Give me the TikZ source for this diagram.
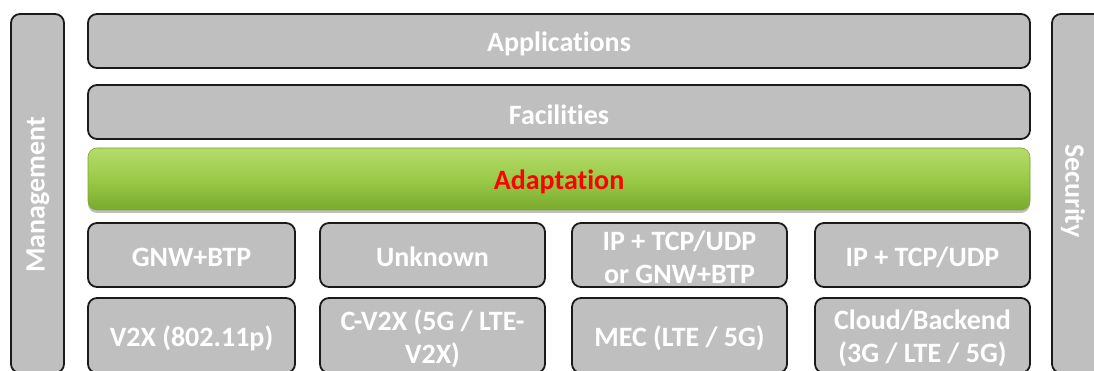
\documentclass[tikz,border=0pt]{standalone}
\usepackage{fontspec}
\setmainfont{Carlito}[Ligatures=CommonOff]
\usetikzlibrary{shadows}

\definecolor{boxgray}{HTML}{BFBFBF}
\definecolor{boxline}{HTML}{1A1A1A}
\definecolor{greentop}{HTML}{B4DC6C}
\definecolor{greenmid}{HTML}{9ACA48}
\definecolor{greenbot}{HTML}{7AAA2C}
\definecolor{greenline}{HTML}{7FA23A}

\begin{document}
\begin{tikzpicture}[x=1pt,y=-1pt,
  labelfont/.style={font=\bfseries\fontsize{28}{33}\selectfont},
  layer/.style={draw=boxline, line width=1.8pt, rounded corners=9pt,
    fill=boxgray, inner sep=0pt},
  txt/.style={text=white, labelfont, align=center, inner sep=0pt},
  sidebox/.style={layer, minimum width=53pt, minimum height=359pt},
  wide/.style={layer, minimum width=942pt, minimum height=54pt},
  rowone/.style={layer, minimum height=64pt},
  rowtwo/.style={layer, minimum height=75pt},
  adapt/.style={draw=greenline, line width=0.6pt, rounded corners=9pt,
    top color=greentop, bottom color=greenbot, middle color=greenmid,
    inner sep=0pt, minimum width=942pt, minimum height=62pt,
    drop shadow={shadow xshift=0pt, shadow yshift=-3pt, fill=black, opacity=0.25}}
]
\useasboundingbox (0,0) rectangle (1094,371);
\clip (0,0) rectangle (1094,371);

% side columns
\node[sidebox] (mgmt) at (37.5,193.5) {};
\node[txt, rotate=90] (mgmtlabel) at (38,195) {Management};
\node[sidebox] (sec) at (1078.5,193.5) {};
\node[txt, rotate=-90] (seclabel) at (1073,191) {Security};

% upper layers
\node[wide] (app) at (559,41) {};
\node[txt] (applabel) at ([yshift=-2.5pt]app.center) {Applications};
\node[wide] (fac) at (559,112) {};
\node[txt] (faclabel) at ([yshift=-2.5pt]fac.center) {Facilities};
\node[adapt] (adp) at (559,179) {};
\node[txt, text=red] (adplabel) at ([yshift=-3pt]adp.center) {Adaptation};

% network / transport
\node[rowone, minimum width=207pt] (gnw) at (191.5,255) {};
\node[txt] (gnwlabel) at ([yshift=-2pt]gnw.center) {GNW+BTP};
\node[rowone, minimum width=225pt] (unk) at (432.5,255) {};
\node[txt] (unklabel) at ([yshift=-2pt]unk.center) {Unknown};
\node[rowone, minimum width=215pt] (ipor) at (679.5,255) {};
\node[txt] (iporlabel) at ([yshift=-2pt]ipor.center) {IP + TCP/UDP\\or GNW+BTP};
\node[rowone, minimum width=215pt] (ip) at (922.5,255) {};
\node[txt] (iplabel) at ([yshift=-2pt]ip.center) {IP + TCP/UDP};

% access technologies
\node[rowtwo, minimum width=207pt] (v2x) at (191.5,335.5) {};
\node[txt] (v2xlabel) at ([yshift=-3pt]v2x.center) {V2X (802.11p)};
\node[rowtwo, minimum width=225pt] (cv2x) at (432.5,335.5) {};
\node[txt] (cv2xlabel) at ([yshift=-3pt]cv2x.center) {C-V2X (5G / LTE-\\V2X)};
\node[rowtwo, minimum width=215pt] (mec) at (679.5,335.5) {};
\node[txt] (meclabel) at ([yshift=-3pt]mec.center) {MEC (LTE / 5G)};
\node[rowtwo, minimum width=215pt] (cloud) at (922.5,335.5) {};
\node[txt] (cloudlabel) at ([yshift=-3pt]cloud.center) {Cloud/Backend\\(3G / LTE / 5G)};
\end{tikzpicture}
\end{document}
